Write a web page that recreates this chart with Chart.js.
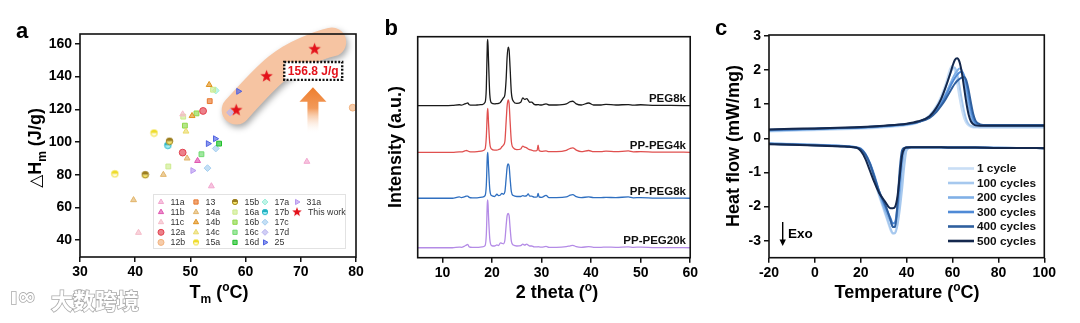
<!DOCTYPE html>
<html>
<head>
<meta charset="utf-8">
<script src="https://cdn.jsdelivr.net/npm/chart.js@4.4.0/dist/chart.umd.min.js"></script>
<style>
html, body { margin: 0; padding: 0; background: #fff; }
#wrap { position: relative; width: 1080px; height: 323px; overflow: hidden; }
canvas { position: absolute; top: 0px; }
</style>
</head>
<body>
<div id="wrap">
  <canvas id="chartA" width="370" height="323" style="left:0px"></canvas>
  <canvas id="chartB" width="330" height="323" style="left:370px"></canvas>
  <canvas id="chartC" width="380" height="323" style="left:700px"></canvas>
</div>
<script>
// ---- panel a : literature data (Tm, dHm) ----
const refNames = ['11a','11b','11c','12a','12b','13','14a','14b','14c','15a','15b','16a','16b','16c','16d','17a','17b','17c','17d','25','31a'];
const refTm = [[53.8,71.1],[51.3],[48.6,40.6],[52.3,48.6],[79.4],[53.5],[49.4,45.1,39.7],[53.4,50.3],[49.2],[43.4,36.3],[46.2,41.8],
               [54.1,48.7,46.0],[51.1,49.0],[52.0],[55.2],[54.6],[45.9],[54.6,53.1],[57.2],[58.7,53.2,54.5],[50.4]];
const refDH = [[73,88],[88.5],[117,44.5],[119,93.5],[121],[125],[90,80,64.5],[135,116],[106.5],[105.5,80.5],[100.5,80],
               [132,115.5,85],[117.5,110],[92.5],[99],[131.5],[98],[96,84],[118],[131,99,102],[82.5]];
const workTm = [58.3, 63.8, 72.5];
const workDH = [119.5, 140.2, 156.8];
const bandTm = [58.3, 63.5, 68.0, 73.5, 75.6];
const bandDH = [119.6, 139.2, 151.4, 159.4, 161.2];

// ---- panel b : XRD ----
const theta = [5,8,10,12,13.4,13.8,14.5,14.8,15.1,15.4,16,17,18,18.6,18.85,19.05,19.15,19.3,19.55,19.9,20.5,21,21.3,21.7,22,22.3,22.6,22.85,
  23.05,23.25,23.45,23.65,23.9,24.3,25,25.8,26.2,26.6,27,27.3,27.6,28,28.5,29.1,29.3,29.5,30,30.9,31.5,33,35,35.8,36.3,37,38,39.5,40.5,42,43,45,47.5,48.5,50,53,56,60];
const xrdPEG8k = [0,0,0,0.1,0.4,0.2,0.8,1.0,1.2,0.4,0.2,0.3,0.5,1.5,8,28,30,20,5,1.2,0.8,0.9,1.0,1.5,2.5,3.5,5,12,
  22,26.5,25,17,6,2,1,1.5,3.5,2.8,3.2,2.4,1.5,1.6,0.6,0.4,0.5,0.4,0.3,0.8,0.3,0.3,0.8,1.8,2.0,0.8,0.3,1.2,0.3,0.3,0.6,0.3,0.5,0.2,0.4,0.1,0.1,0];
const xrdPP4k = [0,0,0,0,0.2,0.2,0.6,0.8,0.6,0.3,0.2,0.3,0.6,1.5,7,18,19.9,13,4,1.5,1.0,1.0,1.2,1.6,2.5,3.2,5,14,
  21,23.7,22,14,5,2,1.2,1.5,2.8,2.3,2.0,1.5,1.2,1.0,0.6,0.8,3.2,0.8,0.4,0.6,0.3,0.3,0.9,1.8,2.0,1.0,0.3,0.8,0.3,0.3,0.5,0.3,0.6,0.2,0.3,0.1,0.1,0];
const xrdPP8k = [0,0,0,0,0.6,0.3,0.7,1.0,1.0,0.4,0.2,0.2,0.5,1.2,6,19,20.8,14,4,1.2,0.8,1.8,1.2,1.5,2.2,1.8,3,9,
  14,15.5,14.5,9,3,1.2,0.8,0.8,1.2,1.0,1.2,2.0,1.0,1.0,0.5,0.6,2.2,0.6,0.4,1.3,0.3,0.3,0.6,1.4,1.6,0.7,0.3,0.6,0.3,0.3,0.4,0.3,0.6,0.2,0.3,0.1,0.1,0];
const xrdPP20k = [0,0,0,0,0.3,0.2,0.8,1.2,1.5,0.4,0.2,0.2,0.4,1.0,6,20,21.6,14,4,1.0,0.8,1.3,1.0,2.2,2.0,1.8,3.5,10,
  14.5,15.6,14.5,9,3,1.2,0.8,1.0,1.6,1.2,1.6,1.2,0.8,0.8,0.4,0.4,0.5,0.4,0.3,0.6,0.2,0.2,0.5,0.9,1.1,0.5,0.2,0.5,0.2,0.2,0.3,0.2,0.4,0.2,0.3,0.1,0.1,0];
const xrdNames = ['PEG8k','PP-PEG4k','PP-PEG8k','PP-PEG20k'];
const xrdOffsets = [68.8, 47.7, 26.9, 4.5];

// ---- panel c : DSC ----
const cycleNames = ['1 cycle','100 cycles','200 cycles','300 cycles','400 cycles','500 cycles'];
const heatT = [-20,-10,0,10,20,30,40,45,50,53,55,57,59,60,61,62,63,64,65,66,67,68,69,70,72,75,80,90,100];
const heatFlowUp = [
  [0.20,0.22,0.24,0.26,0.28,0.32,0.38,0.46,0.68,0.96,1.24,1.6,2.05,2.13,1.98,1.62,1.2,0.85,0.6,0.45,0.38,0.34,0.32,0.32,0.31,0.31,0.31,0.31,0.31],
  [0.22,0.24,0.26,0.28,0.30,0.34,0.40,0.47,0.66,0.92,1.16,1.5,1.9,2.04,2.08,1.9,1.55,1.15,0.8,0.55,0.42,0.37,0.35,0.34,0.34,0.34,0.34,0.34,0.34],
  [0.23,0.25,0.27,0.29,0.31,0.35,0.41,0.48,0.64,0.86,1.05,1.3,1.6,1.75,1.88,1.98,2.05,2.0,1.75,1.35,0.95,0.65,0.48,0.41,0.38,0.37,0.37,0.37,0.37],
  [0.24,0.26,0.28,0.30,0.32,0.36,0.41,0.48,0.62,0.82,1.0,1.25,1.52,1.65,1.77,1.86,1.93,1.95,1.85,1.6,1.22,0.85,0.58,0.45,0.39,0.38,0.38,0.38,0.38],
  [0.25,0.27,0.28,0.30,0.32,0.36,0.42,0.48,0.60,0.78,0.95,1.15,1.38,1.5,1.6,1.68,1.74,1.78,1.8,1.7,1.42,1.05,0.72,0.52,0.41,0.39,0.39,0.39,0.39],
  [0.26,0.28,0.29,0.31,0.33,0.37,0.43,0.50,0.65,0.9,1.15,1.5,1.9,2.12,2.3,2.35,2.25,1.95,1.5,1.05,0.7,0.5,0.42,0.38,0.37,0.37,0.37,0.37,0.37]
];
const coolT = [-20,-10,0,10,15,18,20,22,24,26,28,30,31,32,33,34,35,36,37,38,39,40,42,50,60,70,80,90,100];
const heatFlowDown = [
  [-0.14,-0.16,-0.18,-0.21,-0.23,-0.27,-0.35,-0.55,-0.85,-1.25,-1.7,-2.1,-2.3,-2.5,-2.7,-2.8,-2.75,-2.45,-1.9,-1.2,-0.6,-0.3,-0.26,-0.26,-0.27,-0.27,-0.27,-0.28,-0.28],
  [-0.15,-0.17,-0.19,-0.22,-0.24,-0.26,-0.33,-0.5,-0.8,-1.2,-1.65,-2.05,-2.25,-2.45,-2.65,-2.78,-2.78,-2.55,-2.1,-1.5,-0.8,-0.35,-0.27,-0.27,-0.27,-0.28,-0.28,-0.28,-0.29],
  [-0.15,-0.17,-0.19,-0.22,-0.24,-0.27,-0.32,-0.48,-0.75,-1.15,-1.6,-2.0,-2.15,-2.3,-2.45,-2.6,-2.55,-2.2,-1.6,-0.8,-0.35,-0.27,-0.26,-0.26,-0.27,-0.27,-0.27,-0.28,-0.28],
  [-0.16,-0.18,-0.2,-0.22,-0.24,-0.26,-0.3,-0.45,-0.72,-1.1,-1.55,-1.9,-2.05,-2.2,-2.35,-2.5,-2.45,-2.0,-1.2,-0.5,-0.3,-0.27,-0.26,-0.26,-0.27,-0.27,-0.28,-0.28,-0.29],
  [-0.16,-0.18,-0.2,-0.23,-0.25,-0.28,-0.32,-0.47,-0.75,-1.15,-1.55,-1.85,-2.0,-2.2,-2.4,-2.6,-2.6,-1.9,-0.9,-0.35,-0.28,-0.27,-0.26,-0.26,-0.27,-0.27,-0.28,-0.28,-0.29],
  [-0.17,-0.19,-0.21,-0.23,-0.25,-0.27,-0.37,-0.6,-0.95,-1.3,-1.6,-1.8,-1.9,-2.0,-2.05,-2.05,-2.0,-1.7,-1.1,-0.5,-0.3,-0.27,-0.26,-0.26,-0.27,-0.27,-0.28,-0.28,-0.29]
];

// ---- styles ----
const refColors = ['#f2a6cf','#e055b0','#f5bcc9','#e2404e','#f2b27e','#e8782e','#e2b56a','#e0921e','#eadb6a','#eedc2a','#9c7e1e',
                   '#cdeb8e','#8fd84a','#6fda6f','#1fbf2a','#9eeedb','#1fb2c2','#a5cff0','#b9b5f0','#4f62e2','#b898f0'];
const refShapes = ['triangle','triangle','triangle','circle','circle','rect','triangle','triangle','triangle','half','half',
                   'rect','rect','rect','rect','rectRot','half','rectRot','rectRot','triangle','triangle'];
const refLower = {9: '#fffbe0', 10: '#f4e46a', 16: '#a8eef5'};
const refRotation = [0,0,0,0,0,0,0,0,0,0,0,0,0,0,0,0,0,0,0,90,90];
const xrdColors = ['#1a1a1a','#e0504f','#2f6fc0','#b48be6'];
const cycleColors = ['#c9def5','#a6c8ee','#80b0e6','#4f8ad6','#2f5f9e','#14284d'];

Chart.defaults.font.family = '"Liberation Sans", Arial, sans-serif';
Chart.defaults.color = '#000';

const TICK_FONT = { size: 14, weight: 'bold' };
const TITLE_BIG = 'bold 18px "Liberation Sans", Arial, sans-serif';
const TITLE_SMALL = 'bold 12px "Liberation Sans", Arial, sans-serif';

function makeStar(color, r) {
  const c = document.createElement('canvas');
  c.width = c.height = r * 2 + 2;
  const g = c.getContext('2d');
  g.beginPath();
  for (let k = 0; k < 10; k++) {
    const rad = k % 2 ? r * 0.42 : r;
    const a = -Math.PI / 2 + k * Math.PI / 5;
    g.lineTo(r + 1 + rad * Math.cos(a), r + 1 + rad * Math.sin(a));
  }
  g.closePath();
  g.fillStyle = color;
  g.fill();
  return c;
}

// circle, top half one colour and bottom half another
function makeHalf(top, bottom, r) {
  const c = document.createElement('canvas');
  c.width = c.height = r * 2 + 2;
  const g = c.getContext('2d');
  const m = r + 1;
  g.fillStyle = bottom;
  g.beginPath(); g.arc(m, m, r, 0, Math.PI); g.fill();
  g.fillStyle = top;
  g.beginPath(); g.arc(m, m, r, Math.PI, 2 * Math.PI); g.fill();
  g.strokeStyle = top;
  g.lineWidth = 0.9;
  g.beginPath(); g.arc(m, m, r - 0.4, 0, 2 * Math.PI); g.stroke();
  return c;
}

const starImg = makeStar('#e3121b', 6.5);
const starSmall = makeStar('#e3121b', 5);

function styleFor(i, r) {
  if (refShapes[i] === 'half') return makeHalf(refColors[i], refLower[i], r);
  return refShapes[i];
}

// text made of pieces (sub/superscripts)
function drawParts(ctx, parts, cx, cy, angle) {
  ctx.save();
  ctx.translate(cx, cy);
  ctx.rotate(angle || 0);
  let total = 0;
  parts.forEach(p => { ctx.font = p.font; p.w = ctx.measureText(p.text).width; total += p.w; });
  let x = -total / 2;
  ctx.textAlign = 'left';
  ctx.textBaseline = 'alphabetic';
  ctx.fillStyle = '#000';
  parts.forEach(p => { ctx.font = p.font; ctx.fillText(p.text, x, 6 + (p.dy || 0)); x += p.w; });
  ctx.restore();
}

const framePlugin = {
  id: 'frame',
  afterDatasetsDraw(chart) {
    const a = chart.chartArea, ctx = chart.ctx;
    ctx.save();
    ctx.strokeStyle = '#111';
    ctx.lineWidth = 1.6;
    ctx.strokeRect(a.left, a.top, a.right - a.left, a.bottom - a.top);
    ctx.restore();
  }
};

function linAxis(min, max, step, fit, horizontal, showTicks) {
  return {
    type: 'linear', min: min, max: max,
    border: { display: false },
    grid: { display: showTicks, drawOnChartArea: false, drawTicks: true, tickLength: 5, color: '#111', lineWidth: 1.5 },
    ticks: { display: showTicks, stepSize: step, includeBounds: false, font: TICK_FONT, padding: horizontal ? 2 : 3, maxRotation: 0, autoSkip: false },
    afterFit(s) { if (horizontal) s.height = fit; else s.width = fit; }
  };
}

// ================= panel a =================
const datasetsA = refNames.map((n, i) => ({
  label: n,
  data: refTm[i].map((t, j) => ({ x: t, y: refDH[i][j] })),
  pointStyle: styleFor(i, 3.6),
  legendStyle: styleFor(i, 3),
  pointRotation: refRotation[i],
  pointRadius: 3.4,
  borderWidth: 1,
  backgroundColor: refColors[i] + 'a8',
  borderColor: refColors[i]
}));
datasetsA.push({
  label: 'This work',
  data: workTm.map((t, j) => ({ x: t, y: workDH[j] })),
  pointStyle: starImg,
  legendStyle: starSmall,
  pointRadius: 6,
  backgroundColor: '#e3121b',
  borderColor: '#e3121b'
});

const decoA = {
  id: 'decoA',
  beforeDatasetsDraw(chart) {
    const ctx = chart.ctx, xs = chart.scales.x, ys = chart.scales.y;
    const pts = bandTm.map((t, i) => [xs.getPixelForValue(t), ys.getPixelForValue(bandDH[i])]);
    ctx.save();
    ctx.shadowColor = 'rgba(0,0,0,0.35)';
    ctx.shadowBlur = 6;
    ctx.shadowOffsetX = 2;
    ctx.shadowOffsetY = 3;
    ctx.strokeStyle = '#f6c4a2';
    ctx.lineWidth = 29;
    ctx.lineCap = 'round';
    ctx.lineJoin = 'round';
    ctx.beginPath();
    ctx.moveTo(pts[0][0], pts[0][1]);
    for (let i = 1; i < pts.length - 1; i++) {
      const mx = (pts[i][0] + pts[i + 1][0]) / 2, my = (pts[i][1] + pts[i + 1][1]) / 2;
      ctx.quadraticCurveTo(pts[i][0], pts[i][1], mx, my);
    }
    ctx.lineTo(pts[pts.length - 1][0], pts[pts.length - 1][1]);
    ctx.stroke();
    ctx.restore();

    // arrow
    const ax = xs.getPixelForValue(72.2);
    const tip = ys.getPixelForValue(133.5), base = ys.getPixelForValue(124.7), tail = ys.getPixelForValue(105);
    const grad = ctx.createLinearGradient(0, tip, 0, tail);
    grad.addColorStop(0, '#ee7d2c');
    grad.addColorStop(0.45, '#f29a5a');
    grad.addColorStop(1, 'rgba(255,255,255,0)');
    ctx.save();
    ctx.fillStyle = grad;
    ctx.beginPath();
    ctx.moveTo(ax, tip);
    ctx.lineTo(ax + 13.5, base);
    ctx.lineTo(ax + 5.5, base);
    ctx.lineTo(ax + 5.5, tail);
    ctx.lineTo(ax - 5.5, tail);
    ctx.lineTo(ax - 5.5, base);
    ctx.lineTo(ax - 13.5, base);
    ctx.closePath();
    ctx.fill();
    ctx.restore();

    // dotted box
    const bx0 = xs.getPixelForValue(67), bx1 = xs.getPixelForValue(77.5);
    const by0 = ys.getPixelForValue(149), by1 = ys.getPixelForValue(138);
    ctx.save();
    ctx.fillStyle = '#fff';
    ctx.fillRect(bx0, by0, bx1 - bx0, by1 - by0);
    ctx.setLineDash([2, 1.6]);
    ctx.lineWidth = 2.4;
    ctx.strokeStyle = '#111';
    ctx.strokeRect(bx0, by0, bx1 - bx0, by1 - by0);
    ctx.setLineDash([]);
    ctx.fillStyle = '#e3121b';
    ctx.font = 'bold 12px "Liberation Sans", Arial, sans-serif';
    ctx.textAlign = 'center';
    ctx.textBaseline = 'middle';
    ctx.fillText('156.8 J/g', (bx0 + bx1) / 2, (by0 + by1) / 2 + 0.5);
    ctx.restore();
  },
  afterDraw(chart) {
    const ctx = chart.ctx;
    // inner legend
    const colX = [161, 196, 235, 265, 297];
    ctx.save();
    ctx.fillStyle = '#fff';
    ctx.fillRect(153, 194, 192, 54);
    ctx.strokeStyle = '#e2e2e2';
    ctx.lineWidth = 1;
    ctx.strokeRect(153.5, 194.5, 192, 54);
    ctx.font = '8.8px "Liberation Sans", Arial, sans-serif';
    ctx.textBaseline = 'middle';
    ctx.textAlign = 'left';
    chart.data.datasets.forEach((ds, i) => {
      const c = Math.floor(i / 5), r = i % 5;
      const x = colX[c], y = 202 + r * 10.1;
      ctx.fillStyle = ds.backgroundColor;
      ctx.strokeStyle = ds.borderColor;
      ctx.lineWidth = 1;
      const isStar = ds.label === 'This work';
      Chart.helpers.drawPoint(ctx, { pointStyle: ds.legendStyle, rotation: ds.pointRotation || 0, radius: 3, borderWidth: 1 }, x, y);
      ctx.fillStyle = '#333';
      ctx.fillText(ds.label, x + (isStar ? 11 : 9.5), y + 0.5);
    });
    ctx.restore();

    drawParts(ctx, [
      { text: '\u25B3', font: '17px "DejaVu Sans", sans-serif' },
      { text: 'H', font: TITLE_BIG },
      { text: 'm', font: TITLE_SMALL, dy: 5 },
      { text: ' (J/g)', font: TITLE_BIG }
    ], 35, 148, -Math.PI / 2);
    drawParts(ctx, [
      { text: 'T', font: TITLE_BIG },
      { text: 'm', font: TITLE_SMALL, dy: 5 },
      { text: ' (', font: TITLE_BIG },
      { text: 'o', font: TITLE_SMALL, dy: -7 },
      { text: 'C)', font: TITLE_BIG }
    ], 219, 292);

    ctx.save();
    ctx.font = 'bold 22px "Liberation Sans", Arial, sans-serif';
    ctx.fillStyle = '#000';
    ctx.fillText('a', 16, 38);
    // watermark
    ctx.font = 'bold 22px "Noto Sans CJK SC", sans-serif';
    ctx.textBaseline = 'middle';
    ctx.fillStyle = '#fff';
    ctx.strokeStyle = 'rgba(140,140,140,0.75)';
    ctx.lineWidth = 1.6;
    ctx.strokeText('大数跨境', 51, 301);
    ctx.fillText('大数跨境', 51, 301);
    ctx.font = 'bold 22px "DejaVu Sans", sans-serif';
    ctx.strokeText('\u0131\u221E', 10, 298);
    ctx.fillText('\u0131\u221E', 10, 298);
    ctx.restore();
  }
};

new Chart(document.getElementById('chartA'), {
  type: 'scatter',
  data: { datasets: datasetsA },
  options: {
    responsive: false, animation: false, events: [],
    layout: { padding: { left: 0, right: 14, top: 34, bottom: 0 } },
    plugins: { legend: { display: false }, tooltip: { enabled: false } },
    scales: {
      x: linAxis(30, 80, 10, 66, true, true),
      y: linAxis(29.6, 166.1, 20, 80, false, true)
    }
  },
  plugins: [framePlugin, decoA]
});

// ================= panel b =================
const xrdSeries = [xrdPEG8k, xrdPP4k, xrdPP8k, xrdPP20k];
const datasetsB = xrdSeries.map((s, i) => ({
  label: xrdNames[i],
  data: theta.map((t, j) => ({ x: t, y: s[j] + xrdOffsets[i] })),
  borderColor: xrdColors[i],
  borderWidth: 1.3,
  pointRadius: 0,
  cubicInterpolationMode: 'monotone',
  fill: false
}));

const decoB = {
  id: 'decoB',
  afterDraw(chart) {
    const ctx = chart.ctx, ys = chart.scales.y;
    ctx.save();
    ctx.font = 'bold 11.5px "Liberation Sans", Arial, sans-serif';
    ctx.textAlign = 'right';
    ctx.textBaseline = 'alphabetic';
    ctx.fillStyle = '#111';
    xrdNames.forEach((n, i) => ctx.fillText(n, 316, ys.getPixelForValue(xrdOffsets[i]) - 3.5));
    ctx.font = 'bold 22px "Liberation Sans", Arial, sans-serif';
    ctx.fillStyle = '#000';
    ctx.fillText('b', 28, 35);
    ctx.restore();
    drawParts(ctx, [{ text: 'Intensity (a.u.)', font: TITLE_BIG }], 25, 147, -Math.PI / 2);
    drawParts(ctx, [
      { text: '2 theta (', font: TITLE_BIG },
      { text: 'o', font: TITLE_SMALL, dy: -7 },
      { text: ')', font: TITLE_BIG }
    ], 187, 292);
  }
};

new Chart(document.getElementById('chartB'), {
  type: 'line',
  data: { datasets: datasetsB },
  options: {
    responsive: false, animation: false, events: [],
    layout: { padding: { left: 0, right: 7.3, top: 36.7, bottom: 0 } },
    plugins: { legend: { display: false }, tooltip: { enabled: false } },
    scales: {
      x: linAxis(5, 60, 10, 65.3, true, true),
      y: linAxis(0, 100, 20, 47.7, false, false)
    }
  },
  plugins: [framePlugin, decoB]
});

// ================= panel c =================
const datasetsC = [];
cycleNames.forEach((n, i) => {
  datasetsC.push({
    label: n,
    data: heatT.map((t, j) => ({ x: t, y: heatFlowUp[i][j] })),
    borderColor: cycleColors[i], borderWidth: 2, pointRadius: 0,
    cubicInterpolationMode: 'monotone', order: 6 - i
  });
  datasetsC.push({
    label: n + ' cooling',
    data: coolT.map((t, j) => ({ x: t, y: heatFlowDown[i][j] })),
    borderColor: cycleColors[i], borderWidth: 2, pointRadius: 0,
    cubicInterpolationMode: 'monotone', order: 6 - i
  });
});

const decoC = {
  id: 'decoC',
  afterDraw(chart) {
    const ctx = chart.ctx;
    ctx.save();
    ctx.font = 'bold 11.8px "Liberation Sans", Arial, sans-serif';
    ctx.textAlign = 'left';
    ctx.textBaseline = 'middle';
    cycleNames.forEach((n, i) => {
      const y = 168.5 + i * 14.5;
      ctx.strokeStyle = cycleColors[i];
      ctx.lineWidth = 2.6;
      ctx.beginPath();
      ctx.moveTo(248, y);
      ctx.lineTo(274, y);
      ctx.stroke();
      ctx.fillStyle = '#111';
      ctx.fillText(n, 277, y + 0.5);
    });
    // exo arrow
    ctx.strokeStyle = '#000';
    ctx.lineWidth = 1.4;
    ctx.beginPath();
    ctx.moveTo(82.7, 222);
    ctx.lineTo(82.7, 242);
    ctx.stroke();
    ctx.fillStyle = '#000';
    ctx.beginPath();
    ctx.moveTo(79.5, 239.5);
    ctx.lineTo(85.9, 239.5);
    ctx.lineTo(82.7, 246);
    ctx.closePath();
    ctx.fill();
    ctx.font = 'bold 13.5px "Liberation Sans", Arial, sans-serif';
    ctx.fillText('Exo', 88, 234);
    ctx.font = 'bold 22px "Liberation Sans", Arial, sans-serif';
    ctx.textBaseline = 'alphabetic';
    ctx.fillText('c', 15, 35);
    ctx.restore();
    drawParts(ctx, [{ text: 'Heat flow (mW/mg)', font: TITLE_BIG }], 33, 146, -Math.PI / 2);
    drawParts(ctx, [
      { text: 'Temperature (', font: TITLE_BIG },
      { text: 'o', font: TITLE_SMALL, dy: -7 },
      { text: 'C)', font: TITLE_BIG }
    ], 207, 292);
  }
};

new Chart(document.getElementById('chartC'), {
  type: 'line',
  data: { datasets: datasetsC },
  options: {
    responsive: false, animation: false, events: [],
    layout: { padding: { left: 0, right: 35.7, top: 35, bottom: 0 } },
    plugins: { legend: { display: false }, tooltip: { enabled: false } },
    scales: {
      x: linAxis(-20, 100, 20, 65.3, true, true),
      y: linAxis(-3.5, 3.03, 1, 69, false, true)
    }
  },
  plugins: [framePlugin, decoC]
});
</script>
</body>
</html>
